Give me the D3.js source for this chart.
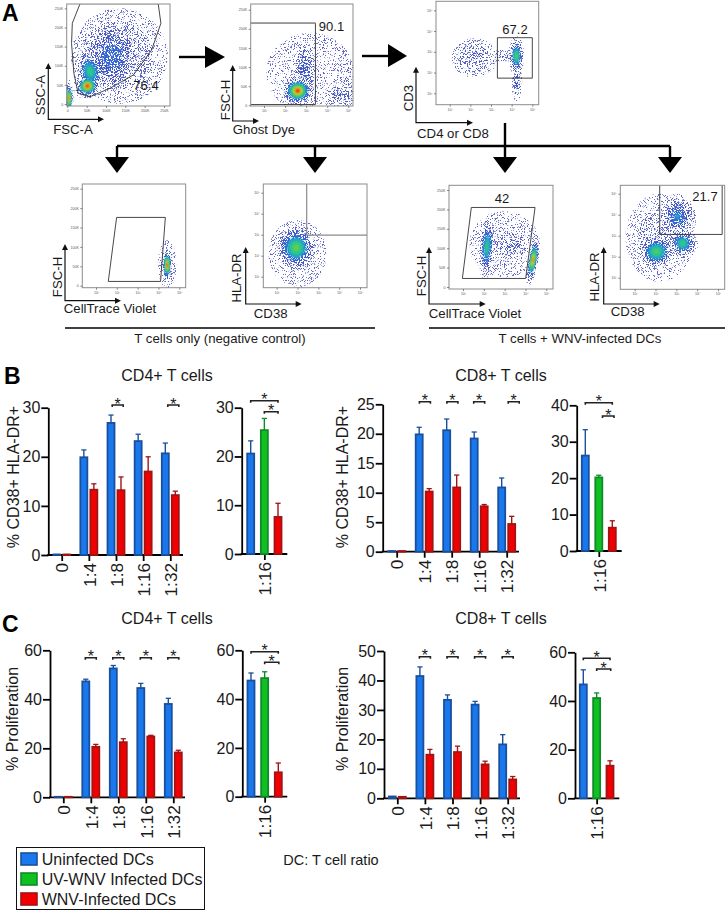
<!DOCTYPE html>
<html><head><meta charset="utf-8">
<script src="https://cdn.jsdelivr.net/npm/d3@7/dist/d3.min.js"></script>
<style>
html,body{margin:0;padding:0;background:#fff}
svg{display:block}
text{font-family:"Liberation Sans",Arial,sans-serif;fill:#1a1a1a}
</style></head><body><div id="chart"></div>
<script>
// ---------- Bar chart data ----------
const ratios = ["0","1:4","1:8","1:16","1:32"];
const sideRatio = ["1:16"];
const legendNames = ["Uninfected DCs","UV-WNV Infected DCs","WNV-Infected DCs"];

const bCd4Blue = [0.1,19.9,26.9,23.2,20.7], bCd4BlueTop = [0.1,21.4,28.5,24.6,22.8];
const bCd4Red  = [0.1,13.3,13.2,17.0,12.2], bCd4RedTop  = [0.1,14.5,15.9,20.0,13.0];
const bCd4Side = [20.6,25.4,7.6],           bCd4SideTop = [23.2,27.8,10.4];
const bCd8Blue = [0.1,19.9,20.6,19.2,10.9], bCd8BlueTop = [0.1,21.1,22.5,20.3,12.5];
const bCd8Red  = [0.1,10.2,10.9,7.7,4.7],   bCd8RedTop  = [0.1,10.7,13.0,8.0,6.0];
const bCd8Side = [26.2,20.2,6.4],           bCd8SideTop = [33.3,20.8,8.3];
const cCd4Blue = [0.2,47.3,52.6,44.6,38.1], cCd4BlueTop = [0.2,48.2,53.8,46.5,40.4];
const cCd4Red  = [0.2,20.6,22.5,24.8,18.3], cCd4RedTop  = [0.2,21.6,23.9,25.3,19.2];
const cCd4Side = [47.6,48.6,10.0],          cCd4SideTop = [50.7,51.2,13.8];
const cCd8Blue = [0.6,41.5,33.4,31.8,18.3], cCd8BlueTop = [0.6,44.6,35.1,32.9,21.6];
const cCd8Red  = [0.5,14.8,15.7,11.5,6.4],  cCd8RedTop  = [0.5,16.6,17.7,12.6,7.4];
const cCd8Side = [46.8,41.2,13.4],          cCd8SideTop = [52.8,43.3,15.4];

const bCd4Stars = ["1:8","1:32"];
const bCd8Stars = ["1:4","1:8","1:16","1:32"];
const cCd4Stars = ["1:4","1:8","1:16","1:32"];
const cCd8Stars = ["1:4","1:8","1:16","1:32"];

const yTicks30 = [0,10,20,30], yTicks25 = [0,5,10,15,20,25], yTicks40 = [0,10,20,30,40];
const yTicks60 = [0,20,40,60], yTicks50 = [0,10,20,30,40,50];

// ---------- Flow cytometry: populations [x, y, xExtent, yExtent, tiltDeg, peak] in axis units ----------
const linTicks = [0,50,100,150,200,250];
const logTicks = [1,2,3,4,5];
const scatterPops  = [[135,125,125,125,0,.16],[115,125,95,110,0,.36],[59,85,42,65,-12,.62],[52,47,38,34,-15,1],[4,15,12,48,0,.97]];
const scatterGate  = [[13,211],[33,262],[235,262],[242,211],[218,141],[171,76],[110,41],[59,19],[28,28],[17,80],[11,158]];
const ghostPops    = [[3.2,85,2.1,105,0,.05],[4.6,28,.95,32,0,.2],[5,70,.3,70,0,.09],[2.95,90,.55,95,0,.3],[2.6,38,.85,42,0,1]];
const ghostGate    = [[-1,215],[3.44,215],[3.44,2],[-1,2]];
const cd3Pops      = [[2.2,2.7,1.1,.95,0,.16],[3.6,2.8,.75,.3,0,.14],[4.25,1.55,.26,.95,0,.26],[4.23,2.8,.38,.95,0,.72]];
const cd3Gate      = [[3.31,1.73],[5.0,1.73],[5.0,3.68],[3.31,3.68]];
const ctvNegPops   = [[4.42,55,.45,62,0,.07],[4.42,53,.26,48,0,1]];
const ctvNegGate   = [[1.99,176],[4.33,176],[4.10,11],[1.59,11]];
const hlaNegPops   = [[2,2.1,1.4,1.6,0,.06],[1.93,2.38,1.1,1.2,0,.72]];
const hlaNegGate   = [[2.44,2.98],[6,2.98],[6,6],[2.44,6]];
const ctvPosPops   = [[3,110,1.7,85,0,.08],[3.4,105,.9,45,0,.18],[2.15,104,.4,85,4,.62],[4.36,70,.26,68,10,.96]];
const ctvPosGate   = [[1.4,205],[4.46,205],[4.01,22],[.97,22]];
const hlaPosPops   = [[2.2,2.9,1.65,2.1,0,.12],[3.05,3.9,.9,1.1,-8,.44],[3.3,2.64,.75,.75,0,.64],[2.04,2.24,1,.9,0,.7]];
const hlaPosGate   = [[2.2,3.06],[5.2,3.06],[5.2,6],[2.2,6]];

const densityLevels = [.03,.07,.13,.2,.3,.42,.54,.68,.82,.93];
const densityColors = ["#6068c4","#5560c0","#4a58c0","#3f58c8","#3565d0","#1f9ccf","#2fc78a","#5fd04a","#e8d828","#e2301e"];
const grainLevels = [[14,-8.2],[14,-7.6],[13,-6.5],[12,-5.5],[12,-4.8]];

// ---------- Layout ----------
const W = 726, H = 911;
const svg = d3.select("#chart").append("svg").attr("width",W).attr("height",H).attr("viewBox",[0,0,W,H]);
const defs = svg.append("defs");
const font = "Liberation Sans";

grainLevels.forEach((gl,i)=>{
  const f = defs.append("filter").attr("id","g"+i).attr("x",0).attr("y",0).attr("width","100%").attr("height","100%")
    .attr("color-interpolation-filters","sRGB");
  f.append("feTurbulence").attr("type","fractalNoise").attr("baseFrequency",1.3).attr("numOctaves",2).attr("seed",11).attr("result","n");
  f.append("feColorMatrix").attr("in","n").attr("type","matrix")
    .attr("values",`0 0 0 0 0 0 0 0 0 0 0 0 0 0 0 ${gl[0]} 0 0 0 ${gl[1]}`).attr("result","m");
  f.append("feComposite").attr("in","SourceGraphic").attr("in2","m").attr("operator","in").attr("result","c");
  f.append("feGaussianBlur").attr("in","c").attr("stdDeviation",.3);
});
const sm = defs.append("filter").attr("id","sm").attr("x","-10%").attr("y","-10%").attr("width","120%").attr("height","120%");
sm.append("feGaussianBlur").attr("stdDeviation",1.2);

const flowPlots = [
 {frame:[66.7,4,170,106],  x:"lin",xAt:[0,250,67.3,164],  y:"lin",yAt:[0,250,104,8.3],   pops:scatterPops, gate:scatterGate, closed:true, pct:"76.4",pctAt:[146,90],
  ax:[48.3,63,119.3,104], yName:"SSC-A",yNameAt:[44.5,95], xName:"FSC-A",xNameAt:[73,134]},
 {frame:[250.7,4,353,106], x:"log",xAt:[1,5,264,348.3],   y:"lin",yAt:[0,250,105.3,9.7], pops:ghostPops,   gate:ghostGate,   closed:false,pct:"90.1",pctAt:[331.5,31],
  ax:[232.7,65,121,259], yName:"FSC-H",yNameAt:[229.5,100], xName:"Ghost Dye",xNameAt:[264,134]},
 {frame:[436,1.3,538.7,104.7],x:"log",xAt:[1,5,449.7,532.3],y:"log",yAt:[1,5,93.3,10.3],  pops:cd3Pops,     gate:cd3Gate,     closed:true, pct:"67.2",pctAt:[515,34],
  ax:[416,66.7,122.7,473], yName:"CD3",yNameAt:[413,98], xName:"CD4 or CD8",xNameAt:[453,138]},
 {frame:[82.3,184,185.7,287.7],x:"log",xAt:[1,5,96,179.3],y:"lin",yAt:[0,250,285.7,188.7],pops:ctvNegPops, gate:ctvNegGate,  closed:true,
  ax:[65,244,300.7,121], yName:"FSC-H",yNameAt:[61.5,277], xName:"CellTrace Violet",xNameAt:[110,313]},
 {frame:[263.3,184,367,287.7],x:"log",xAt:[1,5,276.7,360],y:"log",yAt:[1,5,276.7,192.7],  pops:hlaNegPops, gate:hlaNegGate,  closed:true, gateGrey:true,
  ax:[245.7,247,304,301.7], yName:"HLA-DR",yNameAt:[240.5,278], xName:"CD38",xNameAt:[270.7,317.5]},
 {frame:[449,185.3,553,289],x:"log",xAt:[1,5,463,546.3],y:"lin",yAt:[0,250,287,190],      pops:ctvPosPops, gate:ctvPosGate,  closed:true, pct:"42",pctAt:[502,203],
  ax:[429,247,304,485.7], yName:"FSC-H",yNameAt:[426,276], xName:"CellTrace Violet",xNameAt:[475,317.5]},
 {frame:[620.3,185.3,724.7,289.3],x:"log",xAt:[1,5,634.7,718],y:"log",yAt:[1,5,277.7,193.7],pops:hlaPosPops,gate:hlaPosGate,closed:true, pct:"21.7",pctAt:[705,201],
  ax:[603.7,247,304,659.7], yName:"HLA-DR",yNameAt:[598.5,277], xName:"CD38",xNameAt:[627.7,315.5]}
];

function scaleFrom(at,lo,hi){
  const s = d3.scaleLinear().domain([at[0],at[1]]).range([at[2],at[3]]);
  return d3.scaleLinear().domain([s.invert(lo),s.invert(hi)]).range([lo,hi]);
}
const axisFmtLin = d=> d===0?"0":d+"K";
const sup = {1:"¹",2:"²",3:"³",4:"⁴",5:"⁵"};
const axisFmtLog = d=>"10"+sup[d];

flowPlots.forEach((p,i)=>{
  const [fx0,fy0,fx1,fy1] = p.frame;
  const xs = scaleFrom(p.xAt,fx0,fx1), ys = scaleFrom(p.yAt,fy1,fy0);
  const clipId = "clip"+i;
  defs.append("clipPath").attr("id",clipId).append("rect").attr("x",fx0).attr("y",fy0).attr("width",fx1-fx0).attr("height",fy1-fy0);
  const g = svg.append("g").attr("class","flow");
  const body = g.append("g").attr("clip-path",`url(#${clipId})`);
  body.append("rect").attr("x",fx0).attr("y",fy0).attr("width",fx1-fx0).attr("height",fy1-fy0).attr("fill","#fff");
  // density as nested contours, lowest level first
  densityLevels.forEach((lv,li)=>{
    const pops = p.pops.filter(d=>d[5]>lv);
    if(!pops.length) return;
    const lg = body.append("g").attr("fill",densityColors[li]);
    if(li<grainLevels.length){
      lg.attr("filter",`url(#g${li})`);
      lg.append("rect").attr("x",fx0).attr("y",fy0).attr("width",fx1-fx0).attr("height",fy1-fy0).attr("fill","none");
    } else {
      lg.attr("filter","url(#sm)");
    }
    lg.selectAll("ellipse").data(pops).join("ellipse").each(function(d){
      const f = Math.sqrt(Math.log(d[5]/lv)/Math.log(d[5]/densityLevels[0]));
      const cx = xs(d[0]), cy = ys(d[1]);
      d3.select(this).attr("cx",cx).attr("cy",cy)
        .attr("rx",Math.abs(xs(d[0]+d[2])-cx)*f).attr("ry",Math.abs(ys(d[1]+d[3])-cy)*f)
        .attr("transform",`rotate(${d[4]},${cx},${cy})`);
    });
  });
  // gate
  body.append("path").attr("d",(p.closed?d3.line().curve(d3.curveLinearClosed):d3.line())(p.gate.map(d=>[xs(d[0]),ys(d[1])])))
    .attr("fill","none").attr("stroke",p.gateGrey?"#8a8a8a":"#333").attr("stroke-width",p.gateGrey?1.2:.9);
  if(i===1){
    body.append("line").attr("x1",fx0).attr("x2",xs(3.44)).attr("y1",ys(215)).attr("y2",ys(215)).attr("stroke","#9a9a9a").attr("stroke-width",1.1);
  }
  // frame
  g.append("rect").attr("x",fx0).attr("y",fy0).attr("width",fx1-fx0).attr("height",fy1-fy0)
    .attr("fill","none").attr("stroke","#8c8c8c").attr("stroke-width",1);
  // axes
  const xAxis = d3.axisBottom(xs).tickSize(2).tickPadding(1.5)
    .tickValues(p.x==="lin"?linTicks:logTicks).tickFormat(p.x==="lin"?axisFmtLin:axisFmtLog);
  const yAxis = d3.axisLeft(ys).tickSize(2).tickPadding(1.5)
    .tickValues(p.y==="lin"?linTicks:logTicks).tickFormat(p.y==="lin"?axisFmtLin:axisFmtLog);
  const xa = g.append("g").attr("transform",`translate(0,${fy1})`).call(xAxis);
  const ya = g.append("g").attr("transform",`translate(${fx0},0)`).call(yAxis);
  [xa,ya].forEach(a=>{
    a.select(".domain").remove();
    a.selectAll("line").attr("stroke","#555").attr("stroke-width",.7);
    a.selectAll("text").attr("font-size",3.6).attr("font-family",font).style("fill","#555");
  });
  // axis arrows
  const [ax,top,bot,tip] = p.ax;
  const a = g.append("g").attr("stroke","#111").attr("fill","none").attr("stroke-width",1.2);
  a.append("path").attr("d",`M${ax},${top+4}V${bot}H${tip-4}`);
  const h = g.append("g").attr("fill","#111");
  h.append("path").attr("d",`M${ax},${top}l3,6h-6z`);
  h.append("path").attr("d",`M${tip},${bot}l-6,-3v6z`);
  g.append("text").attr("transform",`translate(${p.yNameAt[0]},${p.yNameAt[1]}) rotate(-90)`).attr("text-anchor","middle").attr("font-size",13.2).text(p.yName);
  g.append("text").attr("x",p.xNameAt[0]).attr("y",p.xNameAt[1]).attr("text-anchor","middle").attr("font-size",13.2).text(p.xName);
  if(p.pct) g.append("text").attr("x",p.pctAt[0]).attr("y",p.pctAt[1]).attr("text-anchor","middle").attr("font-size",13).text(p.pct);
});

// ---------- Big flow arrows ----------
const flow = svg.append("g").attr("class","arrows");
const tree = [[179,57,205,57],[362,56,388,56],[117,146,670,146],[505,123,505,158],[117,146,117,158],[315,146,315,158],[670,146,670,158]];
flow.selectAll("line").data(tree).join("line")
  .attr("x1",d=>d[0]).attr("y1",d=>d[1]).attr("x2",d=>d[2]).attr("y2",d=>d[3]).attr("stroke","#000").attr("stroke-width",2.4);
[[205,46,225,57,205,68],[388,44,407,56,388,67]].forEach(t=>flow.append("path").attr("d",`M${t[0]},${t[1]}L${t[2]},${t[3]}L${t[4]},${t[5]}Z`));
[117,315,505,670].forEach(x=>flow.append("path").attr("d",`M${x-12},157L${x},173L${x+12},157Z`));

[[65,375,"T cells only (negative control)",220],[429,725,"T cells + WNV-infected DCs",580]].forEach(d=>{
  svg.append("line").attr("x1",d[0]).attr("x2",d[1]).attr("y1",328).attr("y2",328).attr("stroke","#000").attr("stroke-width",1.6);
  svg.append("text").attr("x",d[3]).attr("y",343).attr("text-anchor","middle").attr("font-size",13.2).text(d[2]);
});

[["A",2,21],["B",4,384],["C",2,632]].forEach(d=>svg.append("text").attr("x",d[1]).attr("y",d[2]).attr("font-size",23).attr("font-weight","bold").style("fill","#000").text(d[0]));

// ---------- Bar panels ----------
const colors = {blue:["#1a78ee","#1a4f9c"],green:["#10c020","#108a2a"],red:["#f00000","#a01414"]};
const barW = 7;

function frameAxes(g,y,yTicks,axisX,xEnd,xScale){
  const ya = g.append("g").attr("transform",`translate(${axisX},0)`)
    .call(d3.axisLeft(y).tickValues(yTicks).tickSize(7).tickSizeOuter(0).tickPadding(1));
  ya.selectAll("text").attr("font-size",16).attr("font-family",font);
  ya.selectAll("line,path").attr("stroke","#000").attr("stroke-width",1.8);
  const xa = g.append("g").attr("transform",`translate(0,${y(0)})`)
    .call(d3.axisBottom(xScale).tickSize(6).tickSizeOuter(0));
  xa.select(".domain").remove();
  xa.selectAll("line").attr("stroke","#000").attr("stroke-width",1.8);
  xa.selectAll("text").attr("font-size",17.2).attr("font-family",font)
    .attr("transform","rotate(-90)").attr("text-anchor","end").attr("x",-8).attr("y",0).attr("dy",".36em");
  g.append("line").attr("x1",axisX-1).attr("x2",xEnd).attr("y1",y(0)).attr("y2",y(0)).attr("stroke","#000").attr("stroke-width",1.8);
}
function bars(g,rows){
  const gs = g.selectAll("g.bar").data(rows).join("g").attr("class","bar");
  gs.append("line").attr("x1",d=>d.x).attr("x2",d=>d.x).attr("y1",d=>d.yv).attr("y2",d=>d.yt).attr("stroke",d=>d.c[1]).attr("stroke-width",1.4);
  gs.append("line").attr("x1",d=>d.x-2.6).attr("x2",d=>d.x+2.6).attr("y1",d=>d.yt).attr("y2",d=>d.yt).attr("stroke",d=>d.c[1]).attr("stroke-width",1.3);
  gs.append("rect").attr("x",d=>d.x-barW/2).attr("width",barW).attr("y",d=>d.yv).attr("height",d=>Math.max(0,d.y0-d.yv))
    .attr("fill",d=>d.c[0]).attr("stroke",d=>d.c[1]).attr("stroke-width",1.8);
}
function bracket(g,x1,x2,y,sx){
  g.append("path").attr("d",`M${x1},${y+2}V${y}H${x2}V${y+2}`).attr("fill","none").attr("stroke","#222").attr("stroke-width",1.6);
  g.append("text").attr("x",sx).attr("y",y+4.5).attr("text-anchor","middle").attr("font-size",16).text("*");
}
function mainPanel(cfg,blue,blueTop,red,redTop,stars,yTicks){
  const g = svg.append("g").attr("class","panel");
  const y = d3.scaleLinear().domain([0,yTicks[yTicks.length-1]]).range([cfg.y0,cfg.yTop]);
  const x = d3.scalePoint().domain(ratios).range(cfg.cats);
  const off = d3.scalePoint().domain(["blue","red"]).range([-5,5]);
  frameAxes(g,y,yTicks,cfg.axis,cfg.xEnd,x);
  const rows = [];
  ratios.forEach((r,i)=>{
    rows.push({x:x(r)+off("blue"),yv:y(blue[i]),yt:y(blueTop[i]),y0:y(0),c:colors.blue});
    rows.push({x:x(r)+off("red"),yv:y(red[i]),yt:y(redTop[i]),y0:y(0),c:colors.red});
  });
  bars(g,rows);
  stars.forEach((r,i)=>{
    const cx = x(r)+(cfg.shift?cfg.shift[i]:0);
    bracket(g,cx-5.5,cx+5.5,cfg.br,cx);
  });
  g.append("text").attr("transform",`translate(${cfg.yLabel[0]},${cfg.yLabel[1]}) rotate(-90)`).attr("text-anchor","middle").attr("font-size",16).text(cfg.yName);
  g.append("text").attr("x",cfg.title[0]).attr("y",cfg.title[1]).attr("text-anchor","middle").attr("font-size",16).text(cfg.titleText);
}
function sidePanel(cfg,vals,tops,yTicks){
  const g = svg.append("g").attr("class","panel");
  const y = d3.scaleLinear().domain([0,yTicks[yTicks.length-1]]).range([cfg.y0,cfg.yTop]);
  const x = d3.scalePoint().domain(legendNames).range(cfg.bars);
  const xt = d3.scalePoint().domain(sideRatio).range(cfg.bars);
  frameAxes(g,y,yTicks,cfg.axis,cfg.xEnd,xt);
  const cs = [colors.blue,colors.green,colors.red];
  bars(g,legendNames.map((n,i)=>({x:x(n),yv:y(vals[i]),yt:y(tops[i]),y0:y(0),c:cs[i]})));
  bracket(g,x(legendNames[0]),x(legendNames[2]),cfg.brTop,x(legendNames[1]));
  const lo = x(legendNames[1])+cfg.loShift;
  bracket(g,lo,x(legendNames[2])+cfg.hiShift,cfg.brLow,(lo+x(legendNames[2])+cfg.hiShift)/2);
}

mainPanel({axis:48.3,y0:555,yTop:407.7,xEnd:183,cats:[61.7,170.3],br:405,shift:[1.7,3],yLabel:[18.5,477],yName:"% CD38+ HLA-DR+",title:[167,381],titleText:"CD4+ T cells"},
  bCd4Blue,bCd4BlueTop,bCd4Red,bCd4RedTop,bCd4Stars,yTicks30);
sidePanel({axis:241.7,y0:554,yTop:407.7,xEnd:287.3,bars:[250.7,278],brTop:400.7,brLow:411.7,loShift:0,hiShift:0},bCd4Side,bCd4SideTop,yTicks30);
mainPanel({axis:382.7,y0:551.7,yTop:404.3,xEnd:519,cats:[396.7,506.7],br:401.7,shift:[.7,.7,0,7],yLabel:[347.5,477],yName:"% CD38+ HLA-DR+",title:[501,381],titleText:"CD8+ T cells"},
  bCd8Blue,bCd8BlueTop,bCd8Red,bCd8RedTop,bCd8Stars,yTicks25);
sidePanel({axis:576.7,y0:551,yTop:405.3,xEnd:621.7,bars:[585.3,612.3],brTop:402.7,brLow:416,loShift:3.7,hiShift:1.7},bCd8Side,bCd8SideTop,yTicks40);
mainPanel({axis:50,y0:797.3,yTop:650.3,xEnd:185,cats:[63.3,173.3],br:657.7,yLabel:[17.5,719],yName:"% Proliferation",title:[167,624],titleText:"CD4+ T cells"},
  cCd4Blue,cCd4BlueTop,cCd4Red,cCd4RedTop,cCd4Stars,yTicks60);
sidePanel({axis:242.3,y0:796.7,yTop:650.3,xEnd:287.3,bars:[251,278.3],brTop:651.7,brLow:662.3,loShift:0,hiShift:.5},cCd4Side,cCd4SideTop,yTicks60);
mainPanel({axis:384,y0:798.3,yTop:651,xEnd:520,cats:[397.3,507.7],br:656.7,yLabel:[347.5,719],yName:"% Proliferation",title:[501,624],titleText:"CD8+ T cells"},
  cCd8Blue,cCd8BlueTop,cCd8Red,cCd8RedTop,cCd8Stars,yTicks50);
sidePanel({axis:575,y0:798.3,yTop:652.3,xEnd:619.3,bars:[583.3,610],brTop:658.3,brLow:669,loShift:0,hiShift:.7},cCd8Side,cCd8SideTop,yTicks60);

// ---------- Legend ----------
const leg = svg.append("g").attr("class","legend");
leg.append("rect").attr("x",16.5).attr("y",847.5).attr("width",188).attr("height",62).attr("fill","#fff").attr("stroke","#111").attr("stroke-width",1);
const legY = d3.scalePoint().domain(legendNames).range([859,899]);
const legC = [colors.blue,colors.green,colors.red];
legendNames.forEach((n,i)=>{
  leg.append("rect").attr("x",21).attr("y",legY(n)-6).attr("width",16).attr("height",12).attr("fill",legC[i][0]).attr("stroke",legC[i][1]).attr("stroke-width",1.6);
  leg.append("text").attr("x",41.7).attr("y",legY(n)+5.5).attr("font-size",16).text(n);
});
svg.append("text").attr("x",331).attr("y",865).attr("text-anchor","middle").attr("font-size",14.5).text("DC: T cell ratio");
</script></body></html>
